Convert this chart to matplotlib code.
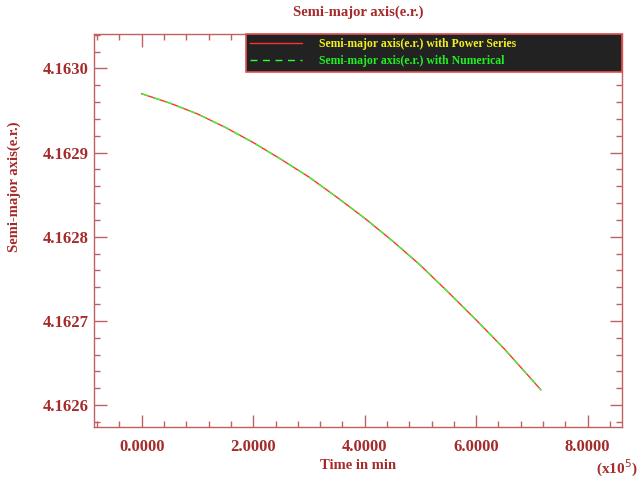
import matplotlib
matplotlib.use("Agg")
import matplotlib.pyplot as plt
from matplotlib.ticker import MultipleLocator, FuncFormatter

# Data (time in units of 1e5 min, semi-major axis in e.r.)
time_e5 = [0.0, 0.5, 1.0, 1.5, 2.0, 2.5, 3.0, 3.5, 4.0, 4.5, 5.0, 5.5, 6.0, 6.5, 7.0, 7.16]
a_power = [4.162970, 4.162959, 4.162946, 4.162930, 4.162912, 4.162892, 4.162871, 4.162847,
           4.162822, 4.162795, 4.162766, 4.162734, 4.162701, 4.162667, 4.162630, 4.162618]
a_numer = [4.162970, 4.162959, 4.162946, 4.162930, 4.162912, 4.162892, 4.162871, 4.162847,
           4.162822, 4.162795, 4.162766, 4.162734, 4.162701, 4.162667, 4.162630, 4.162618]
xticks = [0, 2, 4, 6, 8]
yticks = [4.1626, 4.1627, 4.1628, 4.1629, 4.1630]

axc = "#c06060"
txc = "#a52a2a"
font = "Liberation Serif"

fig = plt.figure(figsize=(6.42, 4.79), dpi=100)
ax_l, ax_r, ax_t, ax_b = 94, 621.7, 34, 426.7
ax = fig.add_axes([ax_l/642, 1-ax_b/479, (ax_r-ax_l)/642, (ax_b-ax_t)/479])

ax.plot(time_e5, a_power, color="#ff3030", lw=1.0, label="Semi-major axis(e.r.) with Power Series")
ax.plot(time_e5, a_numer, color="#30ff30", lw=1.0, ls=(0, (5, 4)), label="Semi-major axis(e.r.) with Numerical")

ax.set_xlim(-0.856, 8.61)
ax.set_ylim(4.1625742, 4.163041)
ax.set_xticks(xticks)
ax.set_yticks(yticks)
ax.xaxis.set_minor_locator(MultipleLocator(0.4))
ax.yaxis.set_minor_locator(MultipleLocator(0.00002))
ax.xaxis.set_major_formatter(FuncFormatter(lambda v, p: f"{v:.4f}"))
ax.yaxis.set_major_formatter(FuncFormatter(lambda v, p: f"{v:.4f}"))

for s in ax.spines.values():
    s.set_color(axc)
    s.set_linewidth(1.0)
ax.tick_params(which="both", direction="in", top=True, right=True, colors=axc)
ax.tick_params(which="major", length=9, width=1)
ax.tick_params(which="minor", length=4.5, width=1)
ax.tick_params(axis="both", which="major", labelcolor=txc, labelsize=12)
ax.tick_params(axis="y", which="major", pad=4)
ax.tick_params(axis="x", which="major", pad=9)
for lbl in ax.get_xticklabels() + ax.get_yticklabels():
    lbl.set_fontfamily(font)
    lbl.set_fontweight("bold")

ax.set_title("Semi-major axis(e.r.)", fontfamily=font, fontweight="bold", fontsize=10.5, color=txc, pad=13)
ax.set_xlabel("Time in min", fontfamily=font, fontweight="bold", fontsize=10.5, color=txc, labelpad=3)
ax.set_ylabel("Semi-major axis(e.r.)", fontfamily=font, fontweight="bold", fontsize=10.5, color=txc)
ax.yaxis.set_label_coords((21 - ax_l)/(ax_r - ax_l), (ax_b - 187)/(ax_b - ax_t))
fig.text(638/642, 1-468/479, r"(x10$^{5}$)", fontfamily=font, fontweight="bold", fontsize=11, color=txc,
         ha="right", va="center")

w = ax_r - ax_l
leg = ax.legend(loc="upper left", bbox_to_anchor=((246-ax_l)/w, 0, (ax_r-246)/w, 1.0), mode="expand",
                borderaxespad=0, frameon=True, fancybox=False,
                prop={"family": font, "weight": "bold", "size": 8.5}, handlelength=4.4, handletextpad=1.4,
                borderpad=0.35, labelspacing=0.45)
fr = leg.get_frame()
fr.set_facecolor("#222222")
fr.set_edgecolor("#e05050")
fr.set_alpha(1)
fr.set_linewidth(1.2)
leg.get_texts()[0].set_color("#f0f020")
leg.get_texts()[1].set_color("#20f020")

fig.savefig("out.png", dpi=100, facecolor="white")
